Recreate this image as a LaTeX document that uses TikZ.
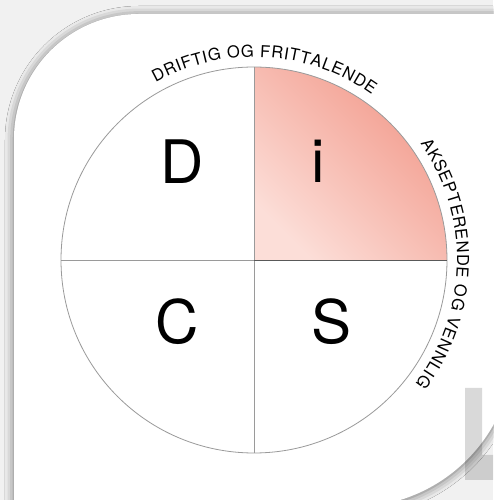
\documentclass[tikz,border=0pt]{standalone}
\usepackage{fontspec}
\setmainfont{TeX Gyre Heros}
\usetikzlibrary{shadows.blur,decorations.text}
\definecolor{bggray}{HTML}{F1F1F1}
\definecolor{pinkdark}{HTML}{F2998A}
\definecolor{pinklight}{HTML}{FCDED8}
\definecolor{linegray}{HTML}{9A9A9A}
\tikzset{
  card/.style={fill=white, blur shadow={shadow xshift=0pt, shadow yshift=-1pt, shadow blur radius=9pt, shadow opacity=55}},
  quadline/.style={draw=linegray, line width=0.8pt},
  bigletter/.style={font=\fontsize{60}{60}\selectfont, inner sep=0pt},
  arctext/.style={decorate, decoration={text along path, text align=fit to path, text={#1}}}
}
\begin{document}
\begin{tikzpicture}[x=1pt,y=1pt]
\useasboundingbox (0,0) rectangle (493,500);
\fill[bggray] (0,0) rectangle (493,500);
% card
\path[card] (14,-30) -- (14,361) arc[start angle=180, end angle=90, radius=125]
  -- (540,486) -- (540,154) -- (514,154) arc[start angle=0, end angle=-90, radius=161] -- (14,-7) -- cycle;
\fill[white] (514,486) rectangle (540,-30);
% watermark L
\fill[black, opacity=0.15] (465,112) -- (482,112) -- (482,45) -- (493,45) -- (493,20) -- (465,20) -- cycle;
% circle
\coordinate (O) at (254,240);
\shade[shading=axis, bottom color=pinklight, top color=pinkdark, shading angle=-45]
  (O) -- ++(0,193) arc[start angle=90, end angle=0, radius=193] -- cycle;
\draw[quadline] (O) circle[radius=193];
\draw[quadline] (254,433) -- (254,47);
\draw[quadline] (61,240) -- (O);
\draw[draw=black!65, line width=0.8pt] (O) -- (447,240);
% letters
\node[bigletter] (D) at (182,338) {D};
\node[bigletter] (i) at (318,339) {i};
\node[bigletter] (C) at (177,178) {C};
\node[bigletter] (S) at (332,178) {S};
% curved labels
\path[arctext={|\fontsize{16.5}{18}\selectfont|DRIFTIG OG FRITTALENDE}]
  (O) ++(119:203) arc[start angle=119, end angle=54.5, radius=203];
\path[arctext={|\fontsize{16.5}{18}\selectfont|AKSEPTERENDE OG VENNLIG}]
  (O) ++(35:203) arc[start angle=35, end angle=-37.5, radius=203];
\end{tikzpicture}
\end{document}
